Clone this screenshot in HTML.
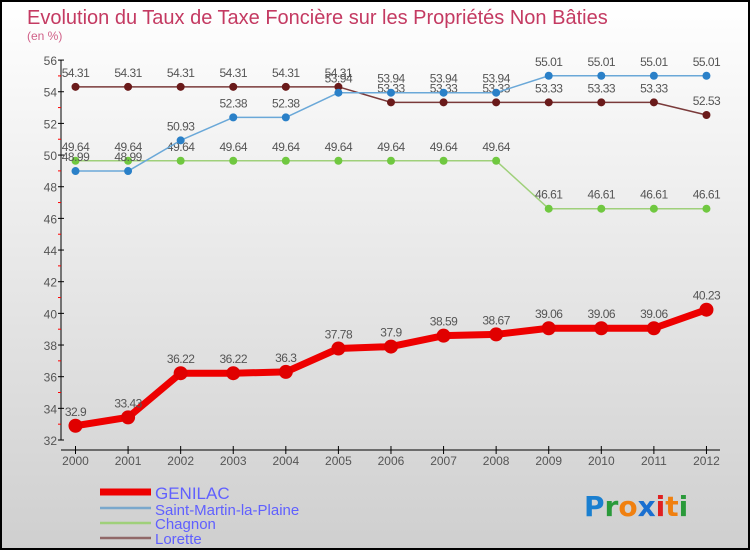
<!DOCTYPE html>
<html><head><meta charset="utf-8"><style>
body{margin:0;width:750px;height:550px;overflow:hidden}
svg{display:block;font-family:"Liberation Sans",sans-serif}
</style></head><body>
<svg width="750" height="550">
<defs><linearGradient id="bg" x1="0" y1="0" x2="0" y2="1"><stop offset="0" stop-color="#ffffff"/><stop offset="1" stop-color="#cfcfcf"/></linearGradient></defs>
<rect x="1" y="1" width="748" height="548" fill="url(#bg)" stroke="#000" stroke-width="2"/>
<text x="27" y="24" font-size="20" fill="#c43a62">Evolution du Taux de Taxe Foncière sur les Propriétés Non Bâties</text>
<text x="27" y="40" font-size="12" fill="#d06088">(en %)</text>
<g id="axes"></g>
<g id="series"></g>
<g id="legend">
<line x1="100" y1="492" x2="151" y2="492" stroke="#e00" stroke-width="7"/>
<text x="155" y="499" font-size="17" fill="#6060ff">GENILAC</text>
<line x1="100" y1="508" x2="151" y2="508" stroke="#7aa8cc" stroke-width="2.5"/>
<text x="155" y="515" font-size="15" fill="#6060ff">Saint-Martin-la-Plaine</text>
<line x1="100" y1="523" x2="151" y2="523" stroke="#9fd07a" stroke-width="2.5"/>
<text x="155" y="529" font-size="15" fill="#6060ff">Chagnon</text>
<line x1="100" y1="538" x2="151" y2="538" stroke="#906868" stroke-width="2.5"/>
<text x="155" y="544" font-size="15" fill="#6060ff">Lorette</text>
</g>
<g font-size="28" font-family="'DejaVu Sans',sans-serif" font-weight="bold">
<text x="584" y="516"><tspan fill="#1a7fd0">P</tspan><tspan fill="#2a9a3a">r</tspan><tspan fill="#f08010">o</tspan><tspan fill="#1a6fd0">x</tspan><tspan fill="#e02020">i</tspan><tspan fill="#f08010">t</tspan><tspan fill="#2a9a3a">i</tspan></text>
</g>
</svg>
<script>
const years=[2000,2001,2002,2003,2004,2005,2006,2007,2008,2009,2010,2011,2012];
const genilac=[32.9,33.43,36.22,36.22,36.3,37.78,37.9,38.59,38.67,39.06,39.06,39.06,40.23];
const saintMartin=[48.99,48.99,50.93,52.38,52.38,53.94,53.94,53.94,53.94,55.01,55.01,55.01,55.01];
const chagnon=[49.64,49.64,49.64,49.64,49.64,49.64,49.64,49.64,49.64,46.61,46.61,46.61,46.61];
const lorette=[54.31,54.31,54.31,54.31,54.31,54.31,53.33,53.33,53.33,53.33,53.33,53.33,52.53];
const yTicks=[32,34,36,38,40,42,44,46,48,50,52,54,56];
const NS="http://www.w3.org/2000/svg";
const X=i=>75.5+i*52.58;
const Y=v=>440-(v-32)*15.83;
function mk(tag,attrs,parent){const e=document.createElementNS(NS,tag);for(const k in attrs)e.setAttribute(k,attrs[k]);parent.appendChild(e);return e;}
const ax=document.getElementById('axes');
let a=mk('line',{x1:61,y1:60,x2:61,y2:440,stroke:'#000','stroke-width':1},ax);


a=mk('line',{x1:61,y1:450,x2:720,y2:450,stroke:'#000','stroke-width':1},ax);


yTicks.forEach((t,i)=>{
  mk('line',{x1:58,y1:Y(t),x2:64,y2:Y(t),stroke:'#000'},ax);
  if(i<yTicks.length-1)mk('line',{x1:58,y1:Y(t+1),x2:61,y2:Y(t+1),stroke:'#f00'},ax);
  const tx=mk('text',{x:57,y:Y(t)+5,'font-size':12,fill:'#555','text-anchor':'end'},ax);
  tx.textContent=t;
  
  
});
years.forEach((y,i)=>{
  mk('line',{x1:X(i),y1:446,x2:X(i),y2:454,stroke:'#000'},ax);
  const tx=mk('text',{x:X(i),y:465,'font-size':12,fill:'#555','text-anchor':'middle'},ax);
  tx.textContent=y;
  
  
});
const sg=document.getElementById('series');
function draw(vals,name,color,dot,w,r){
  const g=mk('g',{},sg);
  
  
  const p=mk('polyline',{points:vals.map((v,i)=>X(i)+','+Y(v)).join(' '),fill:'none',stroke:color,'stroke-width':w,'stroke-linejoin':'round'},g);
  
  
  vals.forEach((v,i)=>{
    const c=mk('circle',{cx:X(i),cy:Y(v),r:r,fill:dot},g);
    
    
    const t=mk('text',{x:X(i),y:Y(v)-10,'font-size':12,fill:'#555','text-anchor':'middle','letter-spacing':'-0.5'},g);
    t.textContent=v;
    
    
  });
}
draw(lorette,'lorette','#7a3a3a','#6a1a1a',1.5,4);
draw(chagnon,'chagnon','#9fd07a','#70c840',1.5,4);
draw(saintMartin,'saint-martin','#6aa8d8','#2a80c8',1.5,4);
draw(genilac,'genilac','#ee0000','#e00000',7,7);
</script>
</body></html>
